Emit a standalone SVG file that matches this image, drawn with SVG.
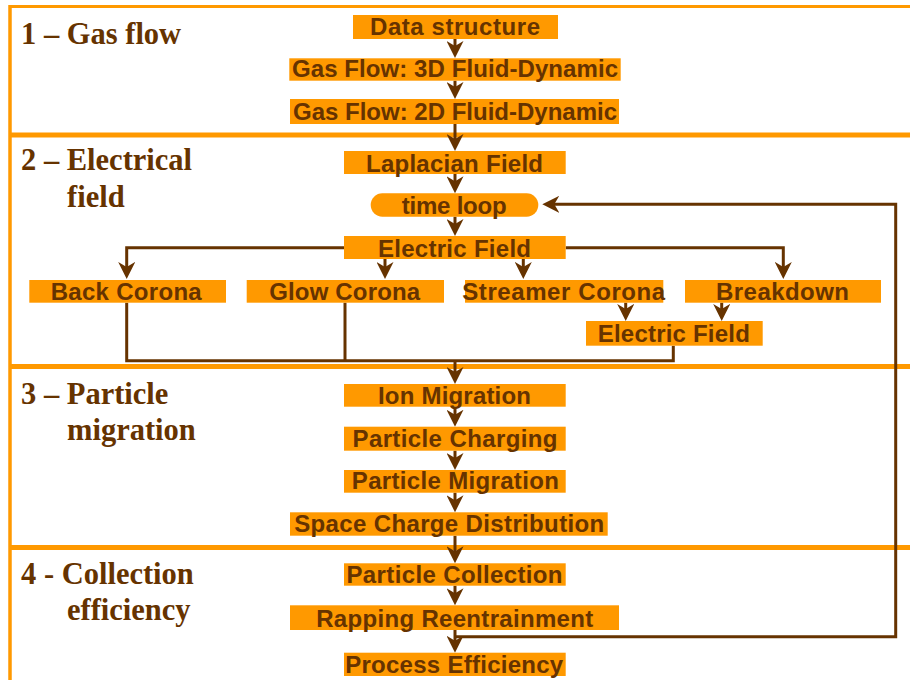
<svg xmlns="http://www.w3.org/2000/svg" width="910" height="680" viewBox="0 0 910 680">
<style>
.sep{stroke:#FF9900;fill:none}
.box{fill:#FF9900}
.lbl{font-family:"Liberation Sans",Arial,sans-serif;font-weight:bold;font-size:24px;fill:#663300;text-anchor:middle}
.ttl{font-family:"Liberation Serif","Times New Roman",serif;font-weight:bold;font-size:30.5px;fill:#663300}
.con{stroke:#663300;stroke-width:3;fill:none}
</style>
<defs>
<marker id="ah" markerUnits="userSpaceOnUse" markerWidth="17" markerHeight="17" viewBox="0 0 17 17" refX="11" refY="8.5" orient="auto">
<path d="M0,0 L17,8.5 L0,17 L5,8.5 Z" fill="#663300"/>
</marker>
</defs>
<rect width="910" height="680" fill="#FFFFFF"/>
<g id="panels">
<line class="sep" x1="10" y1="6.5" x2="910" y2="6.5" stroke-width="3"/>
<line class="sep" x1="10" y1="5" x2="10" y2="680" stroke-width="3.5"/>
<line class="sep" x1="10" y1="135" x2="910" y2="135" stroke-width="5"/>
<line class="sep" x1="10" y1="366.5" x2="910" y2="366.5" stroke-width="5"/>
<line class="sep" x1="10" y1="547.5" x2="910" y2="547.5" stroke-width="5"/>
<text class="ttl" x="21" y="44">1 – Gas flow</text>
<text class="ttl" x="21" y="170">2 – Electrical</text>
<text class="ttl" x="67" y="206.5">field</text>
<text class="ttl" x="21" y="404">3 – Particle</text>
<text class="ttl" x="67" y="440">migration</text>
<text class="ttl" x="21" y="584">4 - Collection</text>
<text class="ttl" x="67" y="620">efficiency</text>
</g>
<g id="connectors">
<path class="con" d="M455,39 V52" marker-end="url(#ah)"/>
<path class="con" d="M455,80.7 V93" marker-end="url(#ah)"/>
<path class="con" d="M455,124 V145" marker-end="url(#ah)"/>
<path class="con" d="M455,174 V187.3" marker-end="url(#ah)"/>
<path class="con" d="M455,216.7 V230" marker-end="url(#ah)"/>
<path class="con" d="M344,247.7 H126.7 V273" marker-end="url(#ah)"/>
<path class="con" d="M385,259 V273" marker-end="url(#ah)"/>
<path class="con" d="M523.3,259 V273" marker-end="url(#ah)"/>
<path class="con" d="M565.7,247.7 H783.3 V273" marker-end="url(#ah)"/>
<path class="con" d="M625.7,302.7 V315" marker-end="url(#ah)"/>
<path class="con" d="M721.7,302.7 V315" marker-end="url(#ah)"/>
<path class="con" d="M126.7,302.7 V360.7 H673.3 V345.7"/>
<path class="con" d="M345,302.7 V360.7"/>
<path class="con" d="M455,360.7 V378" marker-end="url(#ah)"/>
<path class="con" d="M455,406.7 V420.7" marker-end="url(#ah)"/>
<path class="con" d="M455,450.7 V464" marker-end="url(#ah)"/>
<path class="con" d="M455,492.7 V506.3" marker-end="url(#ah)"/>
<path class="con" d="M455,535.7 V557.3" marker-end="url(#ah)"/>
<path class="con" d="M455,585.7 V599.3" marker-end="url(#ah)"/>
<path class="con" d="M455,630 V646.7" marker-end="url(#ah)"/>
<path class="con" d="M455,636.7 H895.7 V204.3 H548.3" marker-end="url(#ah)"/>
</g>
<g id="n-data"><rect class="box" x="353" y="15" width="205" height="24"/><text class="lbl" x="455" y="35" textLength="170">Data structure</text></g>
<g id="n-gas3d"><rect class="box" x="289.3" y="58.3" width="331.4" height="22.4"/><text class="lbl" x="455" y="77.3" textLength="326">Gas Flow: 3D Fluid-Dynamic</text></g>
<g id="n-gas2d"><rect class="box" x="290" y="99" width="329" height="25"/><text class="lbl" x="455" y="119.5" textLength="324">Gas Flow: 2D Fluid-Dynamic</text></g>
<g id="n-laplacian"><rect class="box" x="344" y="151" width="221.7" height="23"/><text class="lbl" x="454.5" y="172" textLength="177">Laplacian Field</text></g>
<g id="n-timeloop"><rect class="box" x="370.7" y="193.3" width="167.6" height="23.4" rx="11.7" ry="11.7"/><text class="lbl" x="454.2" y="214" textLength="105">time loop</text></g>
<g id="n-efield"><rect class="box" x="344" y="236" width="221.7" height="23"/><text class="lbl" x="454.5" y="256.5" textLength="153">Electric Field</text></g>
<g id="n-back"><rect class="box" x="29.3" y="280" width="196.7" height="22.7"/><text class="lbl" x="126.2" y="300" textLength="151">Back Corona</text></g>
<g id="n-glow"><rect class="box" x="246.7" y="280" width="197.3" height="22.7"/><text class="lbl" x="344.7" y="300" textLength="151">Glow Corona</text></g>
<g id="n-streamer"><rect class="box" x="465" y="280" width="198.3" height="22.7"/><text class="lbl" x="563.7" y="300" textLength="203">Streamer Corona</text></g>
<g id="n-breakdown"><rect class="box" x="685" y="280" width="196" height="22.7"/><text class="lbl" x="782.5" y="300" textLength="133">Breakdown</text></g>
<g id="n-efield2"><rect class="box" x="586" y="321" width="176.7" height="24.7"/><text class="lbl" x="673.8" y="341.7" textLength="152">Electric Field</text></g>
<g id="n-ion"><rect class="box" x="344" y="384" width="221.7" height="22.7"/><text class="lbl" x="454.5" y="404.3" textLength="153">Ion Migration</text></g>
<g id="n-pcharging"><rect class="box" x="344" y="426.7" width="221.7" height="24"/><text class="lbl" x="455" y="447.3" textLength="205">Particle Charging</text></g>
<g id="n-pmigration"><rect class="box" x="344" y="470" width="221.7" height="22.7"/><text class="lbl" x="455.3" y="489.3" textLength="207">Particle Migration</text></g>
<g id="n-space"><rect class="box" x="290" y="512.3" width="317.7" height="23.4"/><text class="lbl" x="449.2" y="531.7" textLength="310">Space Charge Distribution</text></g>
<g id="n-collection"><rect class="box" x="344" y="563.3" width="221.7" height="22.4"/><text class="lbl" x="454.5" y="583.3" textLength="216">Particle Collection</text></g>
<g id="n-rapping"><rect class="box" x="290" y="605.3" width="329" height="24.7"/><text class="lbl" x="454.7" y="627.3" textLength="277">Rapping Reentrainment</text></g>
<g id="n-process"><rect class="box" x="344" y="652.7" width="221.7" height="23.3"/><text class="lbl" x="454.2" y="673.3" textLength="218">Process Efficiency</text></g>
</svg>
